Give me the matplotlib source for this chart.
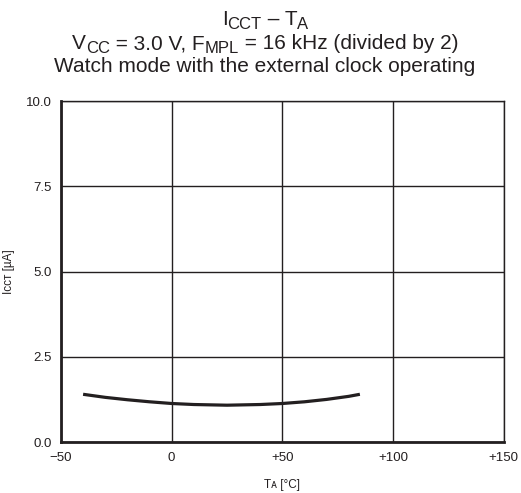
import numpy as np
import matplotlib
matplotlib.use("Agg")
import matplotlib.pyplot as plt

plt.rcParams['font.family'] = ['Liberation Sans', 'DejaVu Sans']

# curve
temp = [-40, -30, -20, -10, 0, 10, 25, 40, 50, 60, 70, 80, 85]
icct = [1.40, 1.31, 1.24, 1.18, 1.13, 1.10, 1.08, 1.10, 1.13, 1.18, 1.25, 1.34, 1.40]

x_ticks = [-50, 0, 50, 100, 150]
x_labels = ["\u221250", "0", "+50", "+100", "+150"]
y_ticks = [0.0, 2.5, 5.0, 7.5, 10.0]
y_labels = ["0.0", "2.5", "5.0", "7.5", "10.0"]

title_lines = [
    [("I", 0), ("CCT", 1), (" \u2013 T", 0), ("A", 1)],
    [("V", 0), ("CC", 1), (" = 3.0 V, F", 0), ("MPL", 1), (" = 16 kHz (divided by 2)", 0)],
    [("Watch mode with the external clock operating", 0)],
]

INK = '#231f20'
MAIN_FS = 15.0
SUB_FS = 12.0

fig = plt.figure(figsize=(5.21, 4.93), dpi=100)
ax = fig.add_axes([0.117, 0.1034, 0.850, 0.6916])

ax.plot(temp, icct, color=INK, lw=2.3, solid_capstyle='butt')

ax.set_xlim(-50, 150)
ax.set_ylim(0, 10)
ax.set_xticks(x_ticks)
ax.set_xticklabels(x_labels)
ax.set_yticks(y_ticks)
ax.set_yticklabels(y_labels)
ax.tick_params(axis='y', length=0, labelsize=9.5, colors=INK, pad=6.5)
ax.tick_params(axis='x', length=0, labelsize=9.5, colors=INK, pad=7)
ax.grid(True, color=INK, lw=1.0)

for side in ['left', 'bottom']:
    ax.spines[side].set_linewidth(2.0)
for side in ['top', 'right']:
    ax.spines[side].set_linewidth(1.0)
for s in ax.spines.values():
    s.set_color(INK)

ax.set_xlabel("T\u1d00 [°C]", fontsize=8.5, color=INK, labelpad=11)
ax.set_ylabel("I\u1d04\u1d04\u1d1b [µA]", fontsize=8.5, color=INK, labelpad=8)

# title lines with lowered, smaller subscripts, centred
renderer = fig.canvas.get_renderer()
cx = 265
baselines = [25, 49, 72]
for pieces, base in zip(title_lines, baselines):
    texts = []
    widths = []
    for s, is_sub in pieces:
        fs = SUB_FS if is_sub else MAIN_FS
        t = fig.text(0, 0, s, fontsize=fs, color=INK, ha='left', va='baseline')
        widths.append(t.get_window_extent(renderer).width)
        texts.append((t, is_sub))
    x = cx - sum(widths) / 2
    for (t, is_sub), w in zip(texts, widths):
        yb = base + (4 if is_sub else 0)
        t.set_position((x / 521, 1 - yb / 493))
        x += w

fig.savefig("out.png", dpi=100)
